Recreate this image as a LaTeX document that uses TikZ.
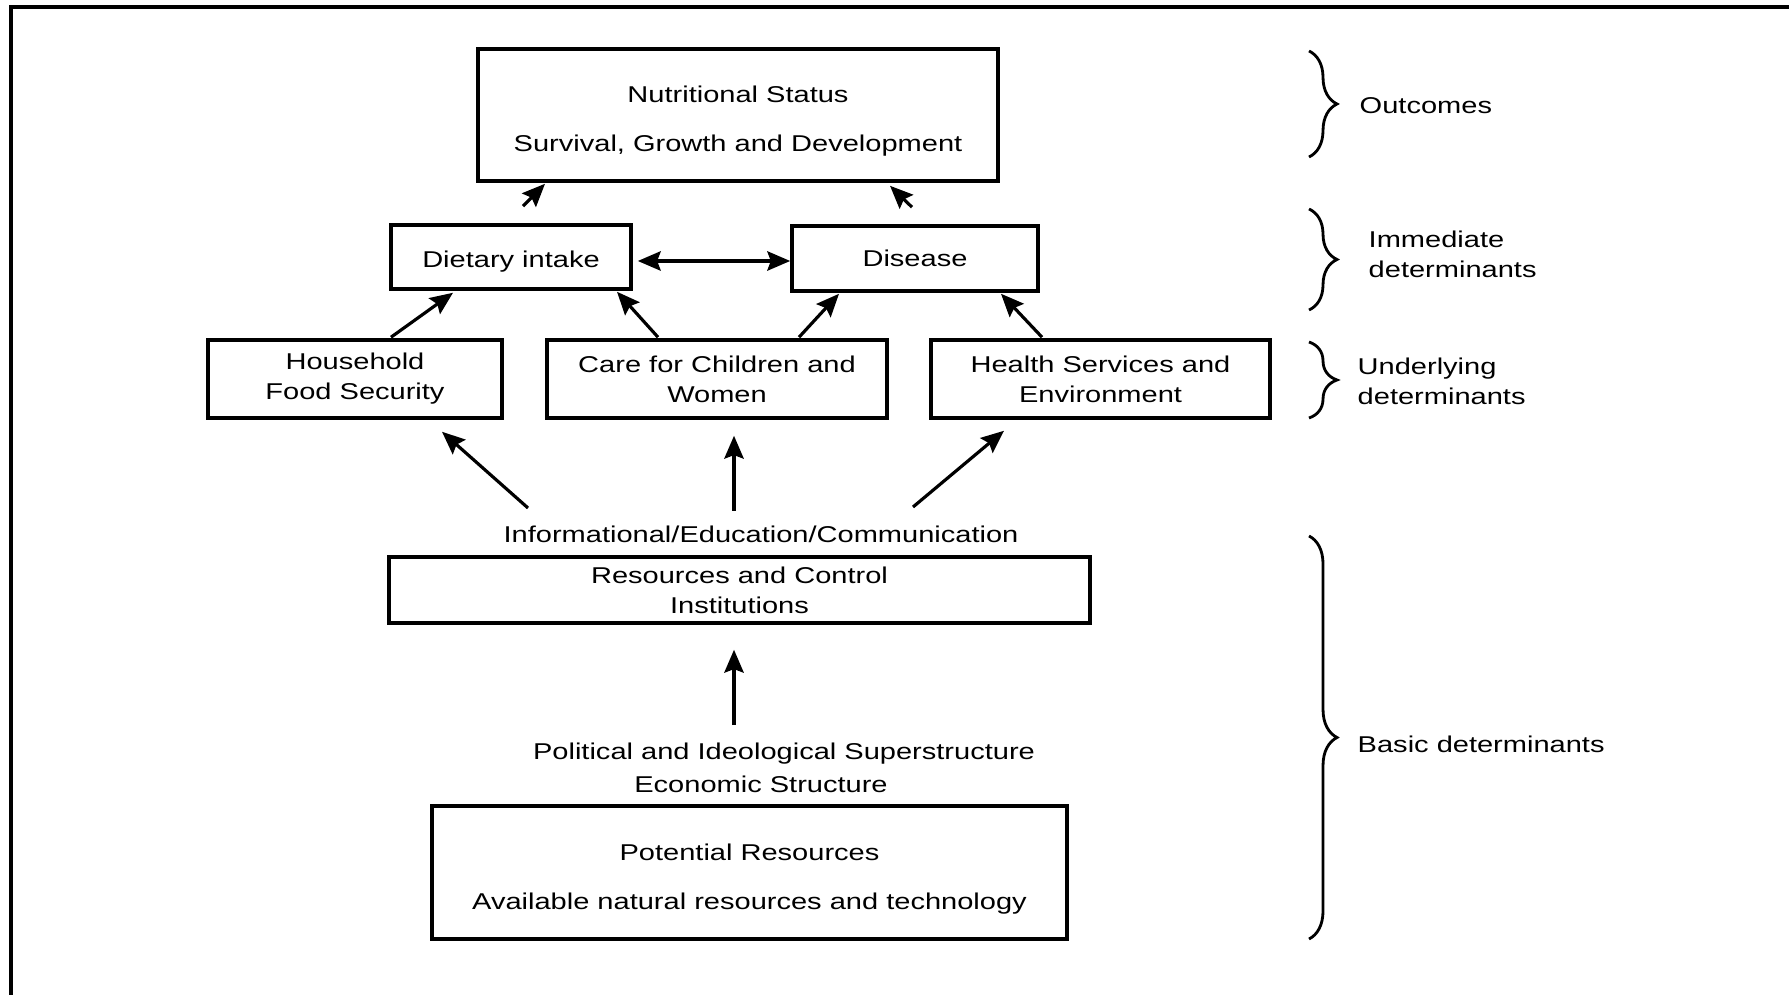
\documentclass[tikz,border=0pt]{standalone}
\usepackage{fontspec}
\setmainfont[FakeStretch=1.27]{Liberation Sans}
\usepackage{tikz}
\usetikzlibrary{arrows.meta, positioning, decorations.pathreplacing}

\begin{document}
\begin{tikzpicture}[
  x=0.01cm, y=-0.01cm,
  every node/.style={font=\fontsize{6.5}{8.5}\selectfont},
  % Framed boxes (size given per box)
  box/.style={rectangle, draw=black, line width=1pt, fill=white,
              inner sep=0pt, align=center},
  % Free text lines between boxes
  txt/.style={inner sep=0pt, align=center},
  % Level labels right of the braces
  lbl/.style={inner sep=0pt, align=left, anchor=west},
  arrow/.style={-{Stealth[length=6.5pt, width=5.5pt, inset=1pt]}, line width=0.9pt},
  darrow/.style={{Stealth[length=6.5pt, width=5.5pt, inset=1pt]}-{Stealth[length=6.5pt, width=5.5pt, inset=1pt]},
                 line width=0.9pt},
  brc/.style={decorate, decoration={brace, amplitude=0.28cm}, line width=0.8pt}
]

\useasboundingbox (0,0) rectangle (1789,995);

%% ── Outer frame (left and top edge only) ────────────────────
\draw[line width=1.2pt] (11,995) -- (11,7) -- (1789,7);

%% ── Outcomes ────────────────────────────────────────────────
\node[box, minimum width=5.20cm, minimum height=1.32cm] (nut) at (738,115)
    {\rule{0pt}{8.3pt}Nutritional Status\\[5.4pt]Survival, Growth and Development};

%% ── Immediate determinants ──────────────────────────────────
\node[box, minimum width=2.40cm, minimum height=0.64cm] (diet) at (511,257)
    {\rule{0pt}{7.3pt}Dietary intake};
\node[box, minimum width=2.46cm, minimum height=0.65cm] (dis)  at (915,258.5)
    {Disease};

%% ── Underlying determinants ─────────────────────────────────
\node[box, minimum width=2.94cm, minimum height=0.78cm] (house)  at (355,379)
    {Household\\Food Security};
\node[box, minimum width=3.40cm, minimum height=0.78cm] (care)   at (717,379)
    {Care for Children and\\Women};
\node[box, minimum width=3.39cm, minimum height=0.78cm] (health) at (1100.5,379)
    {Health Services and\\Environment};

%% ── Basic determinants ──────────────────────────────────────
\node[txt] (info) at (761,534) {Informational/Education/Communication};
\node[box, minimum width=7.01cm, minimum height=0.66cm] (res) at (739.5,590)
    {Resources and Control\\Institutions};
\node[txt] (polit) at (784,754) {Political and Ideological Superstructure};
\node[txt] (econ)  at (761,784) {Economic Structure};
\node[box, minimum width=6.35cm, minimum height=1.33cm] (pot) at (749.5,872.5)
    {\rule{0pt}{8.3pt}Potential Resources\\[5.4pt]Available natural resources and technology};

%% ── Arrows (short, floating between the boxes) ──────────────
\draw[arrow] ([shift={(12,-17)}]diet.north) -- ([shift={(-193,1)}]nut.south);
\draw[arrow] ([shift={(-3,-17)}]dis.north)  -- ([shift={(152,3)}]nut.south);
\draw[darrow] ([shift={(5,4)}]diet.east) -- ([shift={(0,2.5)}]dis.west);

\draw[arrow] ([shift={(36,-1)}]house.north)    -- ([shift={(-58,2)}]diet.south);
\draw[arrow] ([shift={(-59,-1)}]care.north)    -- ([shift={(106,1)}]diet.south);
\draw[arrow] ([shift={(82,-1)}]care.north)     -- ([shift={(-76,1)}]dis.south);
\draw[arrow] ([shift={(-58.5,-1)}]health.north) -- ([shift={(86,1)}]dis.south);

\draw[arrow] ([shift={(-233,-26)}]info.center) -- ([shift={(87,12)}]house.south);
\draw[arrow] ([shift={(-27,-23)}]info.center)  -- ([shift={(17,16)}]care.south);
\draw[arrow] ([shift={(152,-27)}]info.center)  -- ([shift={(-96.5,11)}]health.south);

\draw[arrow] ([shift={(-50,-29)}]polit.center) -- ([shift={(-5.5,25)}]res.south);

%% ── Braces and level labels ─────────────────────────────────
\draw[brc] (1309,51)  -- (1309,157);
\draw[brc] (1309,209) -- (1309,310);
\draw[brc] (1309,342) -- (1309,418);
\draw[brc] (1309,536) -- (1309,939);

\node[lbl] (lout)  at (1359,106)   {Outcomes};
\node[lbl] (limm)  at (1368,254.5) {Immediate\\determinants};
\node[lbl] (lund)  at (1357,381.5) {Underlying\\determinants};
\node[lbl] (lbas)  at (1357,744)   {Basic determinants};

\end{tikzpicture}
\end{document}
